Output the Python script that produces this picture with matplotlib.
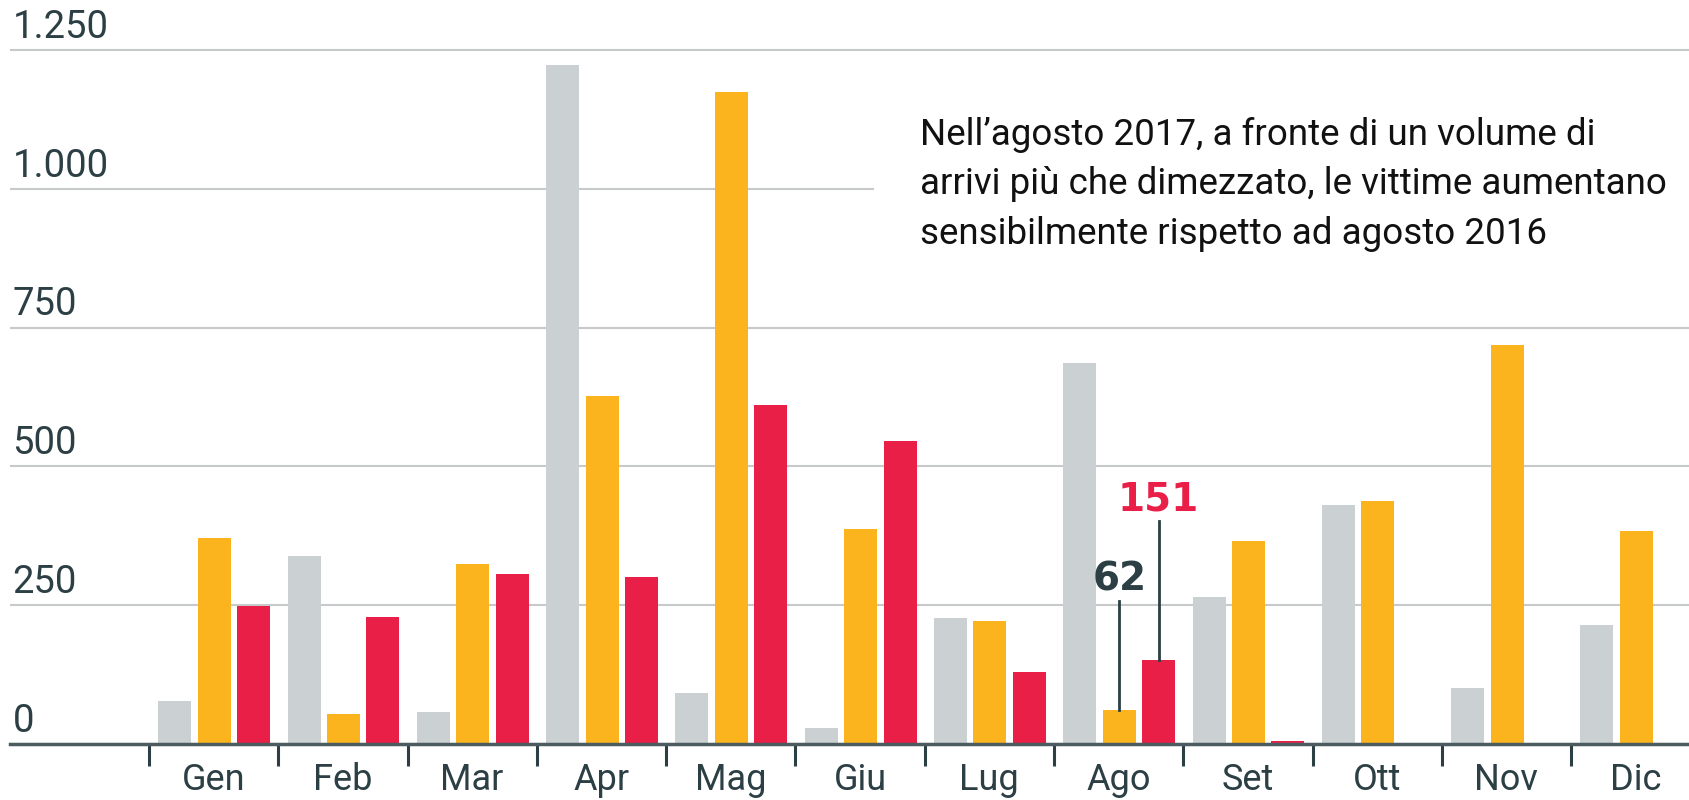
import numpy as np
import matplotlib.pyplot as plt
from matplotlib.transforms import blended_transform_factory

# dati
mesi = ["Gen", "Feb", "Mar", "Apr", "Mag", "Giu", "Lug", "Ago", "Set", "Ott", "Nov", "Dic"]
v2015 = [78, 338, 58, 1223, 91, 29, 227, 687, 264, 431, 101, 215]
v2016 = [371, 54, 324, 627, 1174, 388, 221, 62, 365, 437, 718, 384]
v2017 = [248, 229, 307, 301, 611, 545, 130, 151, 6, np.nan, np.nan, np.nan]
yticks = [0, 250, 500, 750, 1000, 1250]
ytick_labels = ["0", "250", "500", "750", "1.000", "1.250"]

grigio = '#cbd0d3'
arancio = '#fbb41e'
rosso = '#ea1f48'
scuro = '#2c3f44'

plt.rcParams['font.family'] = ['Roboto', 'DejaVu Sans']

fig = plt.figure(figsize=(16.9, 8), dpi=100)
ax = fig.add_axes([10 / 1690, 0.07, 1 - 10 / 1690, 0.93])

x = np.arange(len(mesi))
w = 0.255
ax.bar(x + 0.2, v2015, width=w, color=grigio, zorder=2)
ax.bar(x + 0.505, v2016, width=w, color=arancio, zorder=2)
ax.bar(x + 0.81, v2017, width=w, color=rosso, zorder=2)

ax.set_xlim(-1.075, 11.92)
ax.set_ylim(0, 1340)

# griglia orizzontale + etichette sopra la linea
ax.set_yticks(yticks)
ax.yaxis.grid(True, color='#c6cacb', linewidth=1.5)
ax.set_axisbelow(True)
ax.tick_params(axis='y', length=0, labelleft=False)
trans = blended_transform_factory(ax.transAxes, ax.transData)
for yv, lab in zip(yticks, ytick_labels):
    ax.text(0.0015, yv + 22, lab, transform=trans, ha='left', va='baseline',
            fontsize=27.5, color=scuro)

# asse x: tacche ai confini dei mesi, etichette al centro
ax.set_xticks(x + 0.5)
ax.set_xticklabels(mesi, fontsize=26, color=scuro)
ax.set_xticks(x, minor=True)
ax.tick_params(axis='x', which='major', length=0, pad=13)
ax.tick_params(axis='x', which='minor', length=16, width=2.2, color=scuro)

for s in ['top', 'right', 'left']:
    ax.spines[s].set_visible(False)
ax.spines['bottom'].set_color('#4b5b5f')
ax.spines['bottom'].set_linewidth(2.5)

# annotazioni agosto
i = 7
ax.plot([i + 0.505, i + 0.505], [v2016[i], 258], color=scuro, lw=2, zorder=3)
ax.text(i + 0.505, 276, '62', ha='center', va='baseline', fontsize=28,
        fontweight='bold', color=scuro, family='DejaVu Sans')
ax.plot([i + 0.81, i + 0.81], [v2017[i], 402], color=scuro, lw=2, zorder=3)
ax.text(i + 0.81, 421, '151', ha='center', va='baseline', fontsize=28,
        fontweight='bold', color=rosso, family='DejaVu Sans')

ax.text(0.5417, 0.843, "Nell\u2019agosto 2017, a fronte di un volume di\n"
        "arrivi più che dimezzato, le vittime aumentano\n"
        "sensibilmente rispetto ad agosto 2016",
        transform=ax.transAxes, ha='left', va='top', fontsize=26.5,
        color='#111111', linespacing=1.48, zorder=5,
        bbox=dict(facecolor='white', edgecolor='none', pad=33))

fig.savefig('out.png', dpi=100)
